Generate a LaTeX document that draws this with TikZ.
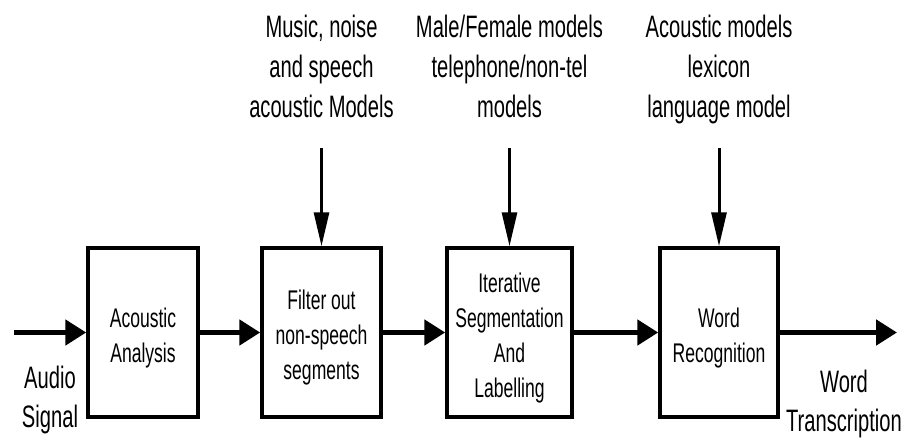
\documentclass[tikz,border=0pt]{standalone}
\usepackage{fontspec}
\setmainfont{Liberation Sans}[FakeStretch=0.65]
\usetikzlibrary{arrows.meta}
\begin{document}
\begin{tikzpicture}[x=1pt,y=1pt,
  box/.style={draw, line width=3.5pt, minimum width=#1, minimum height=169pt, inner sep=0pt},
  mainarrow/.style={line width=5pt, -{Triangle[length=21pt,width=25pt]}},
  toparrow/.style={line width=3pt, -{Triangle[length=34pt,width=15pt]}},
  boxtext/.style={align=center, inner sep=0pt, font=\fontsize{27pt}{35pt}\selectfont},
  toptext/.style={align=center, inner sep=0pt, anchor=north, font=\fontsize{31pt}{40pt}\selectfont},
  outtext/.style={align=center, inner sep=0pt, anchor=north, font=\fontsize{31pt}{39pt}\selectfont}]
\useasboundingbox (0,0) rectangle (907,440);

% blocks
\node[box=110pt] (B1) at (143,107.5) {};
\node[box=119pt] (B2) at (321.5,107.5) {};
\node[box=125pt] (B3) at (509.5,107.5) {};
\node[box=118pt] (B4) at (719,107.5) {};

\node[boxtext] (B1t) at ([yshift=-5.5pt]B1.center) {Acoustic\\Analysis};
\node[boxtext] (B2t) at ([yshift=-5.5pt]B2.center) {Filter out\\non-speech\\segments};
\node[boxtext] (B3t) at ([yshift=-5.5pt]B3.center) {Iterative\\Segmentation\\And\\Labelling};
\node[boxtext] (B4t) at ([yshift=-5.5pt]B4.center) {Word\\Recognition};

% main flow
\coordinate (in) at (14,107.5);
\coordinate (out) at (897,107.5);
\draw[mainarrow] (in) -- (B1.west);
\draw[mainarrow] (B1.east) -- (B2.west);
\draw[mainarrow] (B2.east) -- (B3.west);
\draw[mainarrow] (B3.east) -- (B4.west);
\draw[mainarrow] (B4.east) -- (out);

% model inputs
\coordinate (t2) at (321.5,292);
\coordinate (t3) at (509.5,292);
\coordinate (t4) at (719,292);
\draw[toparrow] (t2) -- (B2.north);
\draw[toparrow] (t3) -- (B3.north);
\draw[toparrow] (t4) -- (B4.north);

\node[toptext] (L2) at (321.5,425) {Music, noise\\and speech\\acoustic Models};
\node[toptext] (L3) at (509.5,425) {Male/Female models\\telephone/non-tel\\models};
\node[toptext] (L4) at (719,425) {Acoustic models\\lexicon\\language model};

\node[outtext] (Lin) at (50,74) {Audio\\Signal};
\node[outtext] (Lout) at (844,70) {Word\\Transcription};
\end{tikzpicture}
\end{document}
